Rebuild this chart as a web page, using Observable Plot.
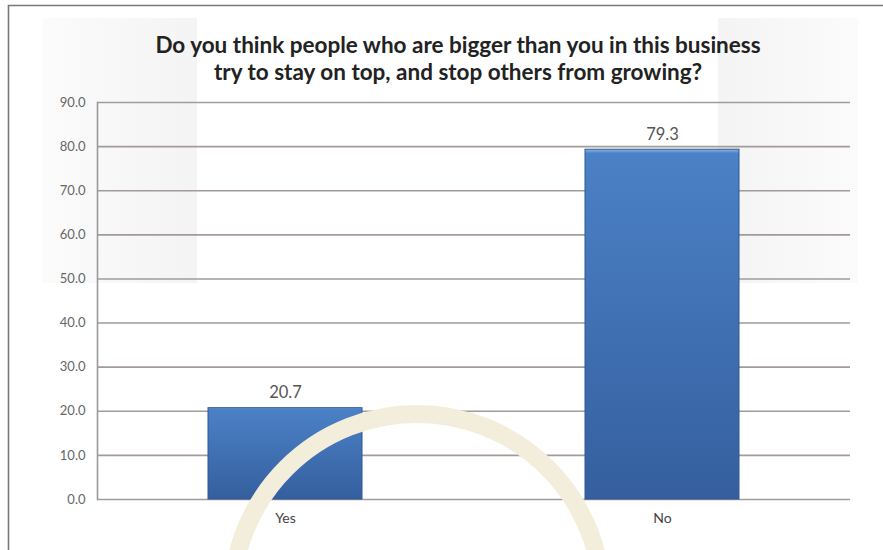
<!DOCTYPE html>
<html><head><meta charset="utf-8">
<script src="https://cdn.jsdelivr.net/npm/d3@7"></script>
<script src="https://cdn.jsdelivr.net/npm/@observablehq/plot@0.6"></script>
<style>body{margin:0;background:#fff}</style>
</head><body><div id="chart"></div>
<script>
const categories = ["Yes", "No"];
const values = [20.7, 79.3];
const yTicks = [0, 10, 20, 30, 40, 50, 60, 70, 80, 90];
const titleLines = [
  "Do you think people who are bigger than you in this business",
  "try to stay on top, and stop others from growing?"
];
const data = categories.map((c, i) => ({category: c, value: values[i], label: values[i].toFixed(1)}));

const font = "Lato, 'Open Sans', sans-serif";
const plot = Plot.plot({
  width: 883, height: 550,
  marginLeft: 97, marginRight: 33, marginTop: 102, marginBottom: 51,
  style: {fontFamily: font, background: "transparent", overflow: "visible"},
  x: {domain: categories, paddingInner: 0.5915, paddingOuter: 0.294, label: null},
  y: {domain: [0, 90], label: null},
  marks: [
    Plot.ruleY(yTicks, {stroke: "#a39a9a", strokeWidth: 1.6}),
    Plot.frame({anchor: "left", stroke: "#9a9a9a", strokeWidth: 1.6}),
    Plot.axisY({ticks: yTicks, tickFormat: d => d.toFixed(1), tickSize: 0, tickPadding: 12, fontSize: 13, fill: "#666", label: null}),
    Plot.axisX({tickSize: 0, tickPadding: 14, fontSize: 14, fill: "#444", label: null}),
    Plot.barY(data, {x: "category", y: "value", fill: "url(#barGrad)", stroke: "#2e5893", strokeWidth: 1}),
    Plot.text(data, {x: "category", y: "value", text: "label", dy: -15, fontSize: 16.5, fill: "#555"}),
    Plot.text([titleLines[0]], {frameAnchor: "top", lineAnchor: "middle", text: d => d, dx: -16, dy: -57, fontSize: 22.5, fontWeight: "bold", fill: "#222"}),
    Plot.text([titleLines[1]], {frameAnchor: "top", lineAnchor: "middle", text: d => d, dx: -16, dy: -30, fontSize: 22.5, fontWeight: "bold", fill: "#222"})
  ]
});

const svg = d3.select(plot);
const defs = svg.insert("defs", ":first-child");
defs.html(`
  <linearGradient id="barGrad" x1="0" y1="0" x2="0" y2="1">
    <stop offset="0" stop-color="#8db4e4"/>
    <stop offset="0.012" stop-color="#4b81c6"/>
    <stop offset="1" stop-color="#355f9f"/>
  </linearGradient>
  <linearGradient id="shadeL" x1="0" y1="0" x2="1" y2="0">
    <stop offset="0" stop-color="#fbfbfb"/>
    <stop offset="1" stop-color="#f4f4f4"/>
  </linearGradient>
  <linearGradient id="shadeR" x1="0" y1="0" x2="1" y2="0">
    <stop offset="0" stop-color="#f4f4f4"/>
    <stop offset="1" stop-color="#fbfbfb"/>
  </linearGradient>`);
// decorative background panes (not data)
const bg = svg.insert("g", "defs + *");
bg.append("rect").attr("x", 42).attr("y", 18).attr("width", 155).attr("height", 265).attr("fill", "url(#shadeL)");
bg.append("rect").attr("x", 718).attr("y", 18).attr("width", 140).attr("height", 265).attr("fill", "url(#shadeR)");
bg.append("path").attr("d", "M8.5,550 V5.5 H883").attr("fill", "none").attr("stroke", "#777").attr("stroke-width", 1.6);
// decorative ring from the source page
svg.append("circle").attr("cx", 417).attr("cy", 599).attr("r", 185).attr("fill", "none").attr("stroke", "#f3eedb").attr("stroke-width", 18);

document.getElementById("chart").append(plot);
</script>
</body></html>
